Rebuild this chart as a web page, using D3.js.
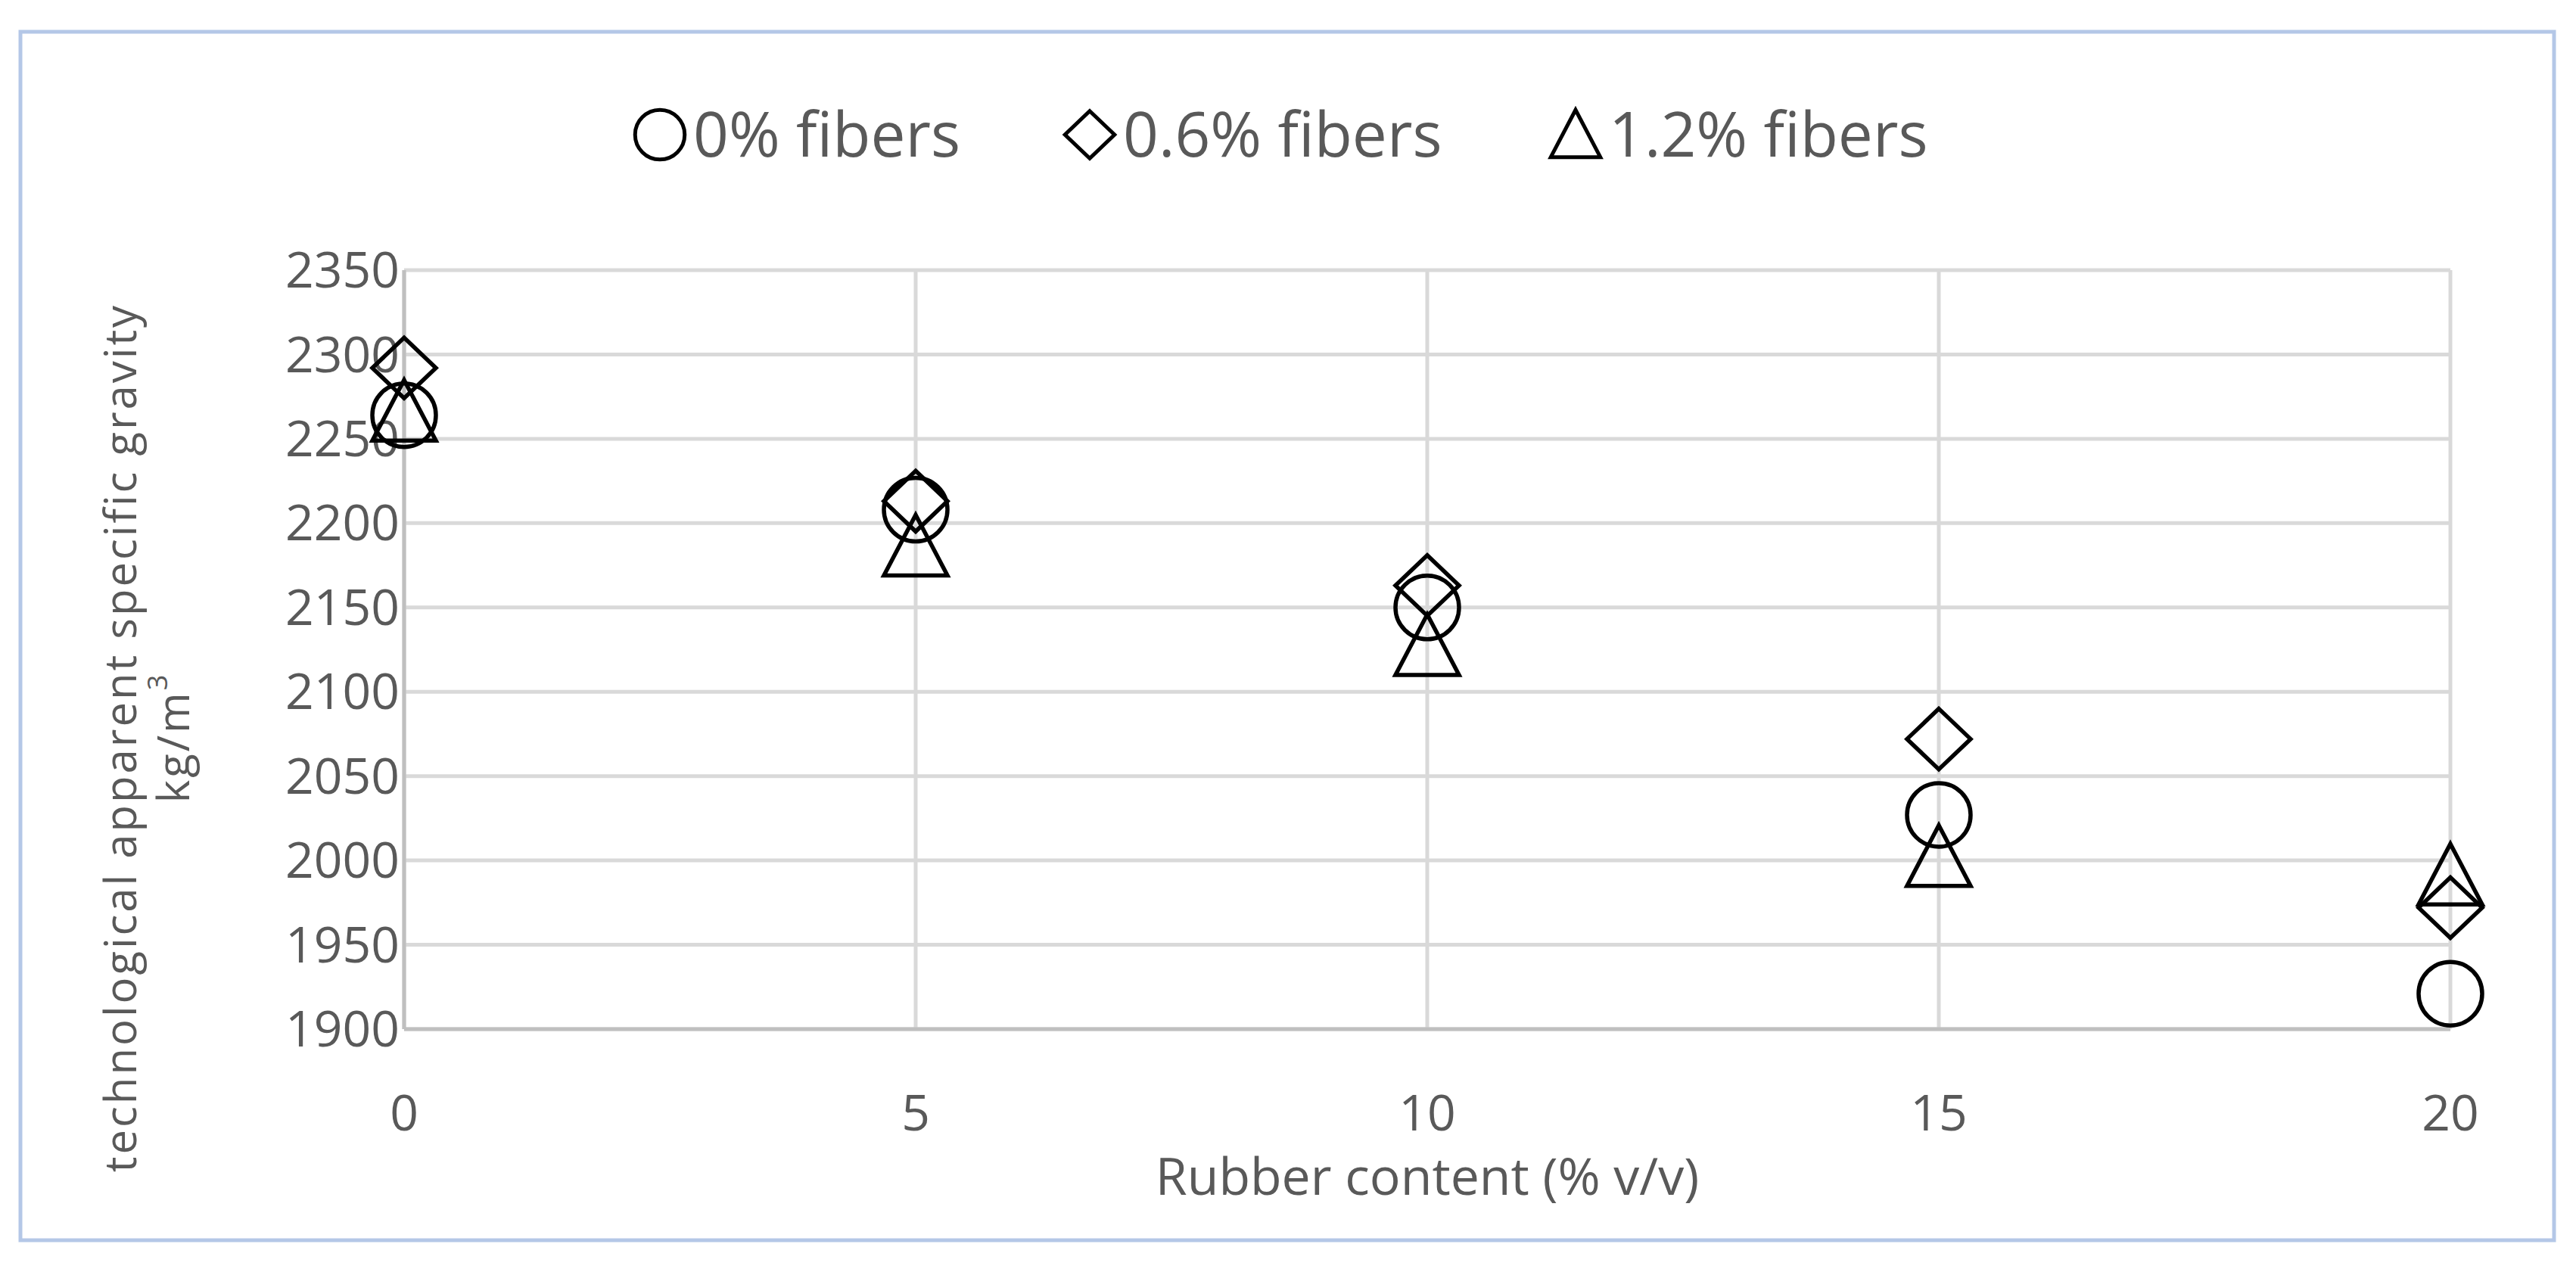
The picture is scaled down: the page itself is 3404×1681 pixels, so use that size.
<!DOCTYPE html>
<html><head><meta charset="utf-8">
<script src="https://cdn.jsdelivr.net/npm/d3@7"></script>
<style>body{margin:0;background:#fff}</style></head>
<body><svg id="c" width="3404" height="1681"></svg>
<script>
const xValues = [0, 5, 10, 15, 20];
const fiber0 = [2264, 2208, 2150, 2027, 1921];
const fiber06 = [2292, 2213, 2163, 2072, 1972];
const fiber12 = [2266, 2186, 2127, 2002, 1991];
const seriesNames = ["0% fibers", "0.6% fibers", "1.2% fibers"];
const yTicks = [1900,1950,2000,2050,2100,2150,2200,2250,2300,2350];

const svg = d3.select("#c");
const font = "'Open Sans', sans-serif", gray = "#595959";
svg.append("rect").attr("x",27).attr("y",42).attr("width",3348).attr("height",1597)
  .attr("fill","#fff").attr("stroke","#b4c7e7").attr("stroke-width",5);

const x = d3.scaleLinear().domain([0,20]).range([534,3238]);
const y = d3.scaleLinear().domain([1900,2350]).range([1360,357]);
const g = svg.append("g");
g.selectAll(".hg").data(yTicks).join("line").attr("x1",x(0)).attr("x2",x(20))
  .attr("y1",d=>y(d)).attr("y2",d=>y(d)).attr("stroke","#d9d9d9").attr("stroke-width",5);
g.selectAll(".vg").data(xValues).join("line").attr("y1",y(1900)).attr("y2",y(2350))
  .attr("x1",d=>x(d)).attr("x2",d=>x(d)).attr("stroke","#d9d9d9").attr("stroke-width",5);
g.append("line").attr("x1",x(0)).attr("x2",x(20)).attr("y1",y(1900)).attr("y2",y(1900)).attr("stroke","#bfbfbf").attr("stroke-width",5);
g.append("line").attr("x1",x(0)).attr("x2",x(0)).attr("y1",y(1900)).attr("y2",y(2350)).attr("stroke","#bfbfbf").attr("stroke-width",5);

g.selectAll(".yt").data(yTicks).join("text").attr("x",x(0)-6).attr("y",d=>y(d)).attr("dy","0.35em")
  .attr("text-anchor","end").attr("font-family",font).attr("font-size",66).attr("fill",gray).text(d=>d);
g.selectAll(".xt").data(xValues).join("text").attr("x",d=>x(d)).attr("y",1471).attr("dy","0.35em")
  .attr("text-anchor","middle").attr("font-family",font).attr("font-size",66).attr("fill",gray).text(d=>d);
svg.append("text").attr("x",x(10)).attr("y",1555).attr("dy","0.35em").attr("text-anchor","middle")
  .attr("font-family",font).attr("font-size",68).attr("fill",gray).text("Rubber content (% v/v)");
const yt = svg.append("text").attr("transform","translate(160,975) rotate(-90)").attr("text-anchor","middle")
  .attr("font-family",font).attr("font-size",58).attr("fill",gray).attr("letter-spacing",3);
yt.append("tspan").attr("x",0).attr("dy","0.35em").text("technological apparent specific gravity");
const t2 = yt.append("tspan").attr("x",0).attr("dy","1.2em").text("kg/m");
t2.append("tspan").attr("font-size",36).attr("dy","-0.8em").text("3");

function marker(sel, i, s){
  if(i===0) return sel.append("circle").attr("r",42*s);
  if(i===1) return sel.append("path").attr("d",`M0,${-40*s}L${42*s},0L0,${40*s}L${-42*s},0Z`);
  return sel.append("path").attr("d",`M0,${-42*s}L${42*s},${38*s}L${-42*s},${38*s}Z`);
}
const data = [fiber0, fiber06, fiber12];
data.forEach((vals,i)=>{
  vals.forEach((v,j)=>{
    const m = g.append("g").attr("transform",`translate(${x(xValues[j])},${y(v)})`);
    marker(m,i,1).attr("fill","none").attr("stroke","#000").attr("stroke-width",5.5);
  });
});
// legend
const lx = [872, 1440, 2082], ly = 178;
seriesNames.forEach((n,i)=>{
  const m = svg.append("g").attr("transform",`translate(${lx[i]},${ly})`);
  marker(m,i,0.78).attr("fill","none").attr("stroke","#000").attr("stroke-width",5);
  svg.append("text").attr("x",lx[i]+44).attr("y",ly).attr("dy","0.35em").attr("font-family",font)
    .attr("font-size",82).attr("fill",gray).text(n);
});
</script></body></html>
